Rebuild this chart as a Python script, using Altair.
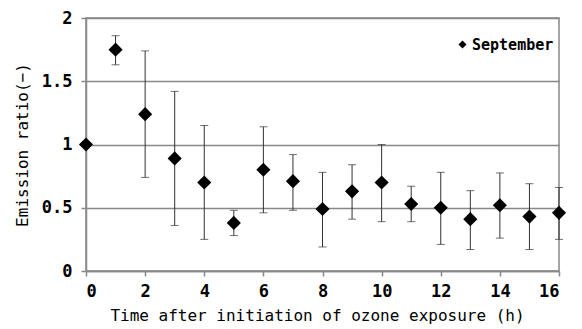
import altair as alt
import pandas as pd

hours = [0, 1, 2, 3, 4, 5, 6, 7, 8, 9, 10, 11, 12, 13, 14, 15, 16]
ratio = [1.00, 1.75, 1.24, 0.89, 0.70, 0.38, 0.80, 0.71, 0.49, 0.63, 0.70, 0.53, 0.50, 0.41, 0.52, 0.43, 0.46]
err_low = [None, 1.63, 0.74, 0.36, 0.25, 0.28, 0.46, 0.48, 0.19, 0.41, 0.39, 0.39, 0.21, 0.17, 0.26, 0.17, 0.25]
err_high = [None, 1.86, 1.74, 1.42, 1.15, 0.48, 1.14, 0.92, 0.78, 0.84, 1.00, 0.67, 0.78, 0.635, 0.775, 0.69, 0.66]
series_name = "September"

df = pd.DataFrame({"h": hours, "r": ratio, "lo": err_low, "hi": err_high,
                   "series": [series_name] * len(hours)})

FONT = "DejaVu Sans Mono"

x = alt.X("h:Q", scale=alt.Scale(domain=[0, 16], nice=False),
          axis=alt.Axis(values=list(range(0, 17, 2)), title="Time after initiation of ozone exposure (h)",
                        grid=False, tickSize=5, labelPadding=7, titlePadding=8, titleX=231))
y_axis = alt.Axis(values=[0, 0.5, 1, 1.5, 2], format="~g", title="Emission ratio(\u2212)",
                  grid=True, tickSize=5, labelPadding=9, titlePadding=11)

base = alt.Chart(df)
err = base.transform_filter("datum.lo != null")

rules = err.mark_rule(color="#333333", strokeWidth=1).encode(
    x=x, y=alt.Y("lo:Q", scale=alt.Scale(domain=[0, 2]), axis=y_axis), y2="hi:Q")
cap_lo = err.mark_tick(color="#333333", thickness=1, size=8, orient="horizontal").encode(x="h:Q", y="lo:Q")
cap_hi = err.mark_tick(color="#333333", thickness=1, size=8, orient="horizontal").encode(x="h:Q", y="hi:Q")

points = base.mark_point(filled=True, color="black", size=200, opacity=1).encode(
    x="h:Q", y="r:Q",
    shape=alt.Shape("series:N", scale=alt.Scale(range=["diamond"]),
                    legend=alt.Legend(orient="none", legendX=369, legendY=19, title=None,
                                      symbolSize=64, symbolFillColor="black", symbolStrokeWidth=0,
                                      labelFont=FONT, labelFontSize=15, labelFontWeight="bold",
                                      labelColor="black", symbolOffset=0, labelOffset=2)))

chart = alt.layer(rules, cap_lo, cap_hi, points).properties(
    width=473, height=253,
    autosize=alt.AutoSizeParams(type="none"),
    padding={"left": 86, "top": 18, "right": 23, "bottom": 58},
    background="white",
).configure_view(stroke="#888888", strokeWidth=1.5).configure_axis(
    domainColor="#888888", domainWidth=1.5, tickColor="#888888", tickWidth=1.5,
    gridColor="#888888", gridWidth=1.5,
    labelFont=FONT, labelFontSize=17, labelFontWeight="bold", labelColor="black",
    titleFont=FONT, titleFontSize=16, titleFontWeight="normal", titleColor="black",
)

chart.save("out.html", embed_options={"renderer": "svg", "actions": False})
